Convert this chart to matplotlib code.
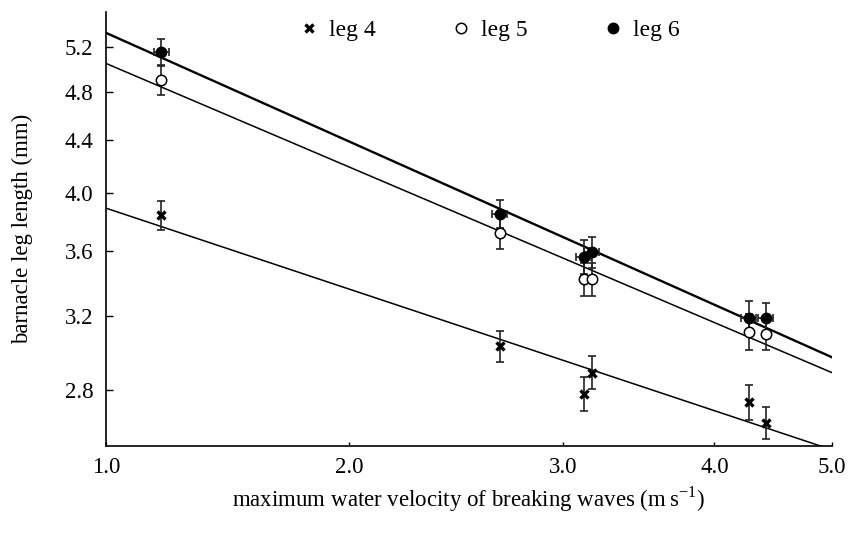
import matplotlib
matplotlib.use("Agg")
import matplotlib.pyplot as plt
import numpy as np

# water velocity (m/s) at each site
velocity = [1.40, 2.66, 3.12, 3.17, 4.27, 4.41]
velocity_err = [0.020, 0.038, 0.045, 0.045, 0.061, 0.063]

# mean leg lengths (mm) and error bars
leg4 = [3.84, 3.03, 2.78, 2.89, 2.74, 2.64]
leg4_err = [0.10, 0.085, 0.085, 0.087, 0.085, 0.075]
leg5 = [4.90, 3.72, 3.42, 3.42, 3.11, 3.10]
leg5_err = [0.13, 0.11, 0.10, 0.10, 0.10, 0.09]
leg6 = [5.16, 3.85, 3.56, 3.59, 3.19, 3.19]
leg6_err = [0.12, 0.10, 0.11, 0.10, 0.10, 0.085]

y_ticks = [2.8, 3.2, 3.6, 4.0, 4.4, 4.8, 5.2]
x_ticks = [2.0, 3.0, 4.0, 5.0]
x_labels = ['1.0', '2.0', '3.0', '4.0', '5.0']

plt.rcParams['font.family'] = ['Liberation Serif', 'DejaVu Serif']
plt.rcParams['mathtext.fontset'] = 'custom'
plt.rcParams['mathtext.rm'] = 'Liberation Serif'

fig = plt.figure(figsize=(8.48, 5.34), dpi=100)
ax = fig.add_axes([106 / 848, 88 / 534, 726 / 848, 434 / 534])

xmin, xmax = 1.26, 5.0
ax.set_xscale('log')
ax.set_yscale('log')
ax.set_xlim(xmin, xmax)
ax.set_ylim(2.531, 5.542)

# fitted power-law lines (straight on log-log)
xx = np.array([xmin, xmax])
for ys, lw in [(leg4, 1.1), (leg5, 1.1), (leg6, 1.7)]:
    b, a = np.polyfit(np.log(velocity), np.log(ys), 1)
    ax.plot(xx, np.exp(a + b * np.log(xx)), color='black', lw=lw, zorder=2)

ebkw = dict(fmt='none', ecolor='#222222', elinewidth=1.2, capsize=3.2, capthick=1.2, zorder=3)
ax.errorbar(velocity, leg4, yerr=leg4_err, **ebkw)
ax.errorbar(velocity, leg5, yerr=leg5_err, **ebkw)
ax.errorbar(velocity, leg6, yerr=leg6_err, xerr=velocity_err, **ebkw)

ax.plot(velocity, leg4, ls='none', marker='x', ms=5.5, mew=2.4, color='black', label='leg 4', zorder=4)
ax.plot(velocity, leg5, ls='none', marker='o', ms=7.5, mfc='white', mec='black', mew=1.1,
        label='leg 5', zorder=4)
ax.plot(velocity, leg6, ls='none', marker='o', ms=7.5, mfc='black', mec='black', label='leg 6', zorder=5)

ax.xaxis.set_minor_locator(matplotlib.ticker.NullLocator())
ax.yaxis.set_minor_locator(matplotlib.ticker.NullLocator())
ax.set_xticks([xmin] + x_ticks)
ax.set_xticklabels(x_labels)
ax.set_yticks(y_ticks)
ax.set_yticklabels(['%.1f' % v for v in y_ticks])
ax.tick_params(axis='both', direction='in', labelsize=16.5, width=1.0)
ax.tick_params(axis='y', length=5, pad=9)
ax.tick_params(axis='x', length=3, pad=8)

for s in ['top', 'right']:
    ax.spines[s].set_visible(False)
for s in ['left', 'bottom']:
    ax.spines[s].set_linewidth(1.2)

ax.set_xlabel('maximum water velocity of breaking waves (m\u2009s$^{-1}$)', fontsize=16.5)
ax.set_ylabel('barnacle leg length (mm)', fontsize=16.5)
ax.xaxis.set_label_coords(0.5, -0.088)
ax.yaxis.set_label_coords(-0.1, 0.5)

ax.legend(loc='center', bbox_to_anchor=(0.53, 0.958), ncol=3, frameon=False, fontsize=17,
          handlelength=0.6, handletextpad=0.55, columnspacing=3.3, borderaxespad=0)

fig.savefig('out.png', dpi=100)
